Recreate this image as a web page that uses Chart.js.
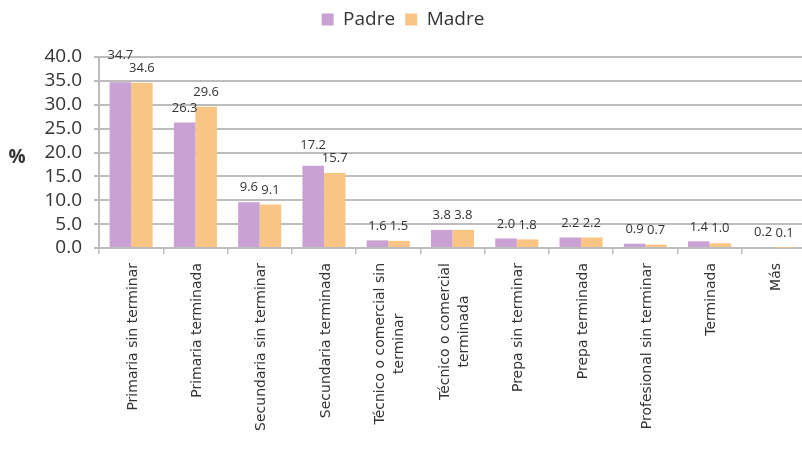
<!DOCTYPE html>
<html>
<head>
<meta charset="utf-8">
<script src="https://cdn.jsdelivr.net/npm/chart.js@4"></script>
<style>
  html, body { margin: 0; padding: 0; background: #fff; overflow: hidden; }
  #wrap { width: 806px; height: 463px; position: relative; }
</style>
</head>
<body>
<div id="wrap"><canvas id="c"></canvas></div>
<script>
// Education level of parents (%)
const categories = [
  'Primaria sin terminar',
  'Primaria terminada',
  'Secundaria sin terminar',
  'Secundaria terminada',
  ['Técnico o comercial sin', 'terminar'],
  ['Técnico o comercial', 'terminada'],
  'Prepa sin terminar',
  'Prepa terminada',
  'Profesional sin terminar',
  'Terminada',
  'Más'
];
const padre = [34.7, 26.3, 9.6, 17.2, 1.6, 3.8, 2.0, 2.2, 0.9, 1.4, 0.2];
const madre = [34.6, 29.6, 9.1, 15.7, 1.5, 3.8, 1.8, 2.2, 0.7, 1.0, 0.1];
const seriesNames = ['Padre', 'Madre'];
const yTitle = '%';

const FONT = "'Open Sans', 'DejaVu Sans', sans-serif";
const WIDE = "'DejaVu Sans', sans-serif";
const TEXT = '#333333';
const GRID = '#bdbdbd';

// value labels above each bar; the left label of a pair is lifted when the two would collide
const barValues = {
  id: 'barValues',
  afterDatasetsDraw(chart) {
    const ctx = chart.ctx;
    ctx.save();
    ctx.font = '13px ' + FONT;
    ctx.fillStyle = TEXT;
    ctx.textAlign = 'center';
    ctx.textBaseline = 'bottom';
    const n = chart.data.labels.length;
    for (let j = 0; j < n; j++) {
      const items = chart.data.datasets.map((ds, i) => {
        const bar = chart.getDatasetMeta(i).data[j];
        const txt = ds.data[j].toFixed(1);
        return { txt, x: bar.x, y: bar.y - 8, w: ctx.measureText(txt).width };
      });
      for (let k = 1; k < items.length; k++) {
        const a = items[k - 1], b = items[k];
        const overlapX = (a.x + a.w / 2) - (b.x - b.w / 2);
        if (overlapX > 2 && Math.abs(a.y - b.y) < 13) {
          if (a.y <= b.y) a.y = b.y - 13; else b.y = a.y - 13;
        }
      }
      items.forEach(it => ctx.fillText(it.txt, it.x, it.y));
    }
    ctx.restore();
  }
};

// vertical category labels, wrapped lines centred on each other
const categoryLabels = {
  id: 'categoryLabels',
  afterDraw(chart) {
    const ctx = chart.ctx;
    const xs = chart.scales.x;
    const lineH = 19;
    ctx.save();
    ctx.font = '14px ' + WIDE;
    ctx.fillStyle = TEXT;
    ctx.textAlign = 'center';
    ctx.textBaseline = 'middle';
    chart.data.labels.forEach((lab, i) => {
      const lines = Array.isArray(lab) ? lab : [lab];
      const w = Math.max(...lines.map(l => ctx.measureText(l).width));
      const x = xs.getPixelForTick(i);
      ctx.save();
      ctx.translate(x + 2, xs.top + 15);
      ctx.rotate(-Math.PI / 2);
      lines.forEach((l, k) => {
        ctx.fillText(l, -w / 2, (k - (lines.length - 1) / 2) * lineH);
      });
      ctx.restore();
    });
    ctx.restore();
  }
};

// unrotated axis title to the left of the value axis
const axisTitle = {
  id: 'axisTitle',
  afterDraw(chart) {
    const ctx = chart.ctx;
    const a = chart.chartArea;
    ctx.save();
    ctx.font = 'bold 19px ' + FONT;
    ctx.fillStyle = TEXT;
    ctx.textAlign = 'center';
    ctx.textBaseline = 'middle';
    ctx.fillText(yTitle, 17, (a.top + a.bottom) / 2 + 5);
    ctx.restore();
  }
};

// extra space between the legend and the plot
const legendGap = {
  id: 'legendGap',
  beforeLayout(chart) {
    const lg = chart.legend;
    if (lg && !lg._gapPatched) {
      const fit = lg.fit;
      lg.fit = function () { fit.call(this); this.height += 18; };
      lg._gapPatched = true;
    }
  }
};

new Chart(document.getElementById('c'), {
  type: 'bar',
  data: {
    labels: categories,
    datasets: [
      { label: seriesNames[0], data: padre, backgroundColor: '#c9a1d3' },
      { label: seriesNames[1], data: madre, backgroundColor: '#f9c585' }
    ]
  },
  options: {
    responsive: true,
    maintainAspectRatio: false,
    animation: false,
    layout: { padding: { top: 0, left: 0, right: 0, bottom: 0 } },
    datasets: { bar: { categoryPercentage: 0.67, barPercentage: 1.0 } },
    plugins: {
      tooltip: { enabled: false },
      legend: {
        position: 'top',
        labels: {
          font: { family: FONT, size: 19 },
          color: TEXT,
          boxWidth: 12,
          boxHeight: 12,
          padding: 10
        }
      }
    },
    scales: {
      x: {
        offset: true,
        grid: { display: true, drawOnChartArea: false, offset: true, color: GRID, lineWidth: 1.5, tickLength: 6 },
        border: { color: GRID, width: 2 },
        ticks: { display: false, autoSkip: false },
        afterFit(scale) { scale.height = 215; }
      },
      y: {
        min: 0,
        max: 40,
        ticks: {
          stepSize: 5,
          autoSkip: false,
          font: { family: FONT, size: 19 },
          color: TEXT,
          padding: 12,
          callback: v => v.toFixed(1)
        },
        grid: { color: GRID, lineWidth: 2, tickLength: 5 },
        border: { color: GRID, width: 2 },
        afterFit(scale) { scale.width = 99; }
      }
    }
  },
  plugins: [barValues, categoryLabels, axisTitle, legendGap]
});
</script>
</body>
</html>
